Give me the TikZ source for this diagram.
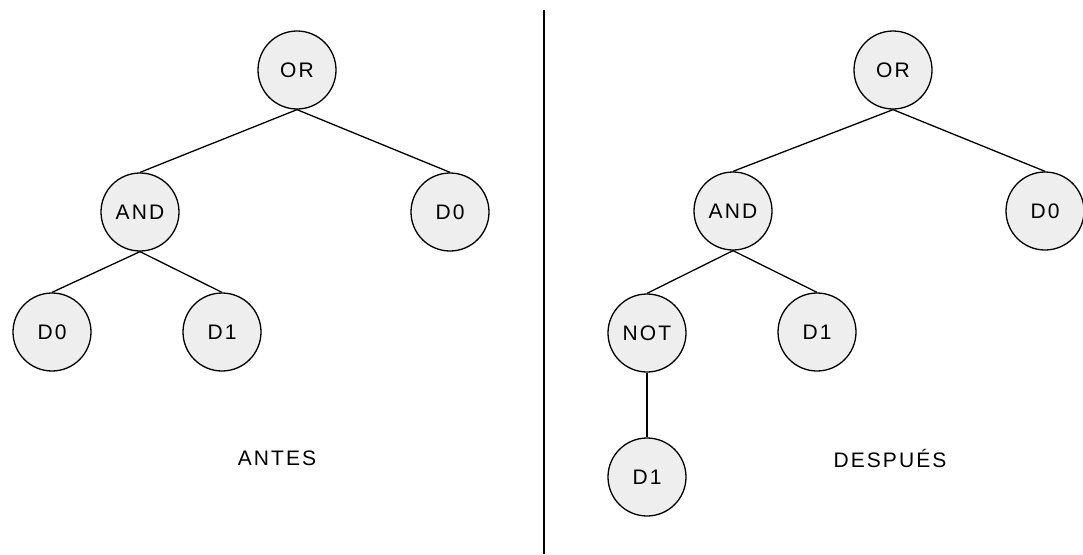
\documentclass[tikz,border=0pt]{standalone}
\usepackage{fontspec}
\setmainfont{Liberation Sans}
\newfontfamily\gatefont[LetterSpace=10]{Liberation Sans}
\begin{document}
\begin{tikzpicture}[x=1pt,y=-1pt,
  gate/.style={circle, draw=black, line width=1.3pt, fill=gray!13,
    minimum size=78pt, inner sep=0pt, font=\gatefont\fontsize{21}{21}\selectfont},
  branch/.style={line width=1.3pt},
  caption/.style={font=\gatefont\fontsize{21}{21}\selectfont}]
\useasboundingbox (0,0) rectangle (1083,554);

% separator between the two trees
\draw[line width=1.8pt] (544,10) -- (544,554);

% tree before the transformation
\node[gate] (lor)  at (297,70)  {OR};
\node[gate] (land) at (140,212) {AND};
\node[gate] (ld0r) at (450,212) {D0};
\node[gate] (ld0)  at (52,332)  {D0};
\node[gate] (ld1)  at (222,332) {D1};
\node[caption] (lcap) at (277,458) {ANTES};

\draw[branch] (lor.south)  -- (land.north);
\draw[branch] (lor.south)  -- (ld0r.north);
\draw[branch] (land.south) -- (ld0.north);
\draw[branch] (land.south) -- (ld1.north);

% tree after the transformation
\node[gate] (ror)  at (893,70)   {OR};
\node[gate] (rand) at (733,211)  {AND};
\node[gate] (rd0r) at (1045,211) {D0};
\node[gate] (rnot) at (647,333)  {NOT};
\node[gate] (rd1)  at (817,332)  {D1};
\node[gate] (rd1b) at (647,477)  {D1};
\node[caption] (rcap) at (890,458) {DESPUÉS};

\draw[branch] (ror.south)  -- (rand.north);
\draw[branch] (ror.south)  -- (rd0r.north);
\draw[branch] (rand.south) -- (rnot.north);
\draw[branch] (rand.south) -- (rd1.north);
\draw[branch] (rnot.south) -- (rd1b.north);
\end{tikzpicture}
\end{document}
